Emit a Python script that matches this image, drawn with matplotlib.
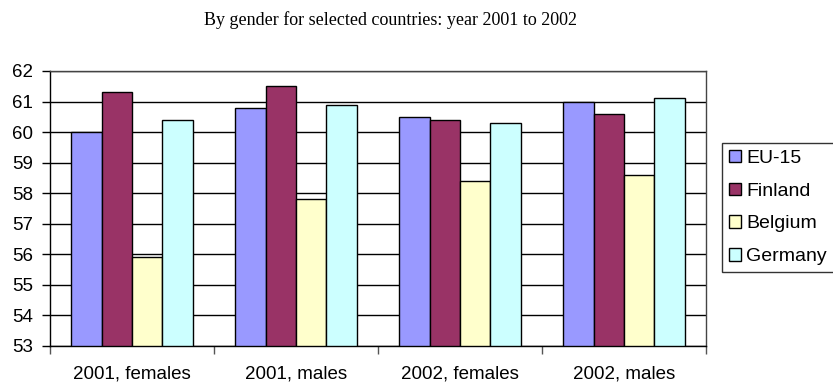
import numpy as np
import matplotlib.pyplot as plt
from matplotlib.patches import Patch

categories = ["2001, females", "2001, males", "2002, females", "2002, males"]
series_names = ["EU-15", "Finland", "Belgium", "Germany"]
eu15 = [60.0, 60.8, 60.5, 61.0]
finland = [61.3, 61.5, 60.4, 60.6]
belgium = [55.9, 57.8, 58.4, 58.6]
germany = [60.4, 60.9, 60.3, 61.1]
colors = ["#9999FF", "#993366", "#FFFFCC", "#CCFFFF"]

plt.rcParams["font.family"] = ["Liberation Sans", "DejaVu Sans"]

fig = plt.figure(figsize=(8.33, 3.9), dpi=100)
ax = fig.add_axes([50 / 833, 1 - 346 / 390, 656 / 833, 275 / 390])

x = np.arange(len(categories))
width = 0.185
series = [eu15, finland, belgium, germany]
for i, vals in enumerate(series):
    offs = (i - 1.5) * width
    ax.bar(x + offs, np.array(vals) - 53, width, bottom=53, color=colors[i],
           edgecolor="black", linewidth=1, zorder=3)

ax.set_ylim(53, 62)
ax.set_xlim(-0.5, len(categories) - 0.5)
ax.set_yticks(range(53, 63))
ax.yaxis.grid(True, color="black", linewidth=1, zorder=0)
ax.tick_params(axis="y", labelsize=13.5, length=6, width=1, pad=6)

# category labels centred, ticks at boundaries
ax.set_xticks(x)
ax.set_xticklabels(categories, fontsize=13.5)
ax.tick_params(axis="x", which="major", length=0, pad=14)
ax.set_xticks(np.arange(-0.5, len(categories)), minor=True)
ax.tick_params(axis="x", which="minor", length=6, width=1, color="#555555")

for s in ax.spines.values():
    s.set_linewidth(1)
    s.set_color("black")
ax.spines["top"].set_color("#444444")
ax.spines["right"].set_color("#444444")

fig.text(390 / 833, 1 - 20 / 390, "By gender for selected countries: year 2001 to 2002",
         ha="center", va="center", fontsize=13, family="Liberation Serif")

handles = [Patch(facecolor=c, edgecolor="black", linewidth=1) for c in colors]
leg = fig.legend(handles, series_names, loc="upper left",
                 bbox_to_anchor=(722 / 833, 1 - 143 / 390), fontsize=14,
                 frameon=True, fancybox=False, handlelength=0.62, handleheight=0.62,
                 handletextpad=0.28, labelspacing=0.8, borderpad=0.35,
                 borderaxespad=0)
leg.get_frame().set_edgecolor("black")
leg.get_frame().set_linewidth(1)

fig.savefig("out.png", dpi=100)
